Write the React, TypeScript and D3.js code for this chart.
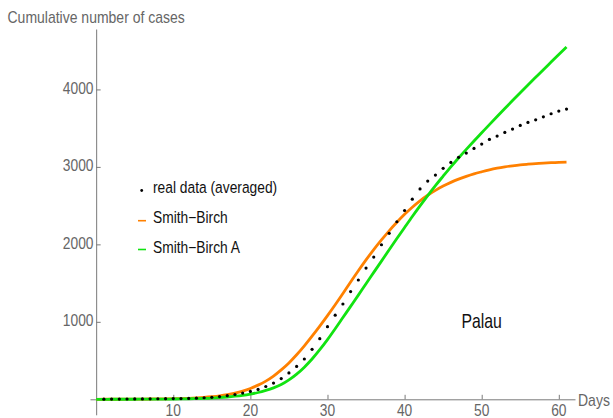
import React, { useEffect, useRef } from 'react';
import * as d3 from 'd3';

// days 1..61 of averaged real data
const dataDays = d3.range(1, 62);
const realData = [
  2, 3, 3, 4, 5, 5, 6, 7, 8, 9, 10, 12, 15, 20, 26, 35, 47, 62, 80, 102,
  128, 165, 210, 268, 340, 425, 520, 645, 782, 937, 1086, 1230, 1391, 1540, 1694, 1836, 1995, 2142, 2292, 2437,
  2583, 2716, 2817, 2894, 2981, 3058, 3123, 3178, 3239, 3294, 3355, 3398, 3445, 3488, 3535, 3574, 3608, 3646, 3686, 3720,
  3746,
];

// model curves sampled on days 0..61
const curveDays = d3.range(0, 62);
const smithBirch = [
  0, 0.5, 1, 1, 2, 2, 3, 4, 5, 6, 8, 10, 13, 18, 25, 34, 45, 60, 80, 106,
  140, 183, 235, 300, 380, 470, 575, 690, 815, 945, 1080, 1220, 1365, 1515, 1660, 1800, 1932, 2057, 2175, 2285,
  2388, 2480, 2562, 2634, 2697, 2752, 2800, 2842, 2878, 2910, 2937, 2962, 2983, 3000, 3014, 3026, 3035, 3043, 3049, 3054,
  3058, 3061,
];
const smithBirchA = [
  0, 0, 0.5, 1, 1, 1, 2, 2, 3, 3, 4, 5, 7, 9, 12, 16, 22, 30, 40, 52,
  68, 88, 115, 148, 190, 250, 325, 415, 520, 640, 770, 910, 1055, 1200, 1345, 1492, 1638, 1784, 1930, 2075,
  2218, 2360, 2497, 2630, 2758, 2880, 3000, 3115, 3226, 3334, 3440, 3546, 3651, 3754, 3856, 3957, 4057, 4156, 4255, 4353,
  4451, 4548,
];

const xTicks = [10, 20, 30, 40, 50, 60];
const yTicks = [1000, 2000, 3000, 4000];
const legendLabels = ['real data (averaged)', 'Smith\u2212Birch', 'Smith\u2212Birch A'];

const App = () => {
  const ref = useRef<SVGSVGElement>(null);

  useEffect(() => {
    const svg = d3.select(ref.current);
    svg.selectAll('*').remove();

    const font = '"Liberation Sans", Arial, sans-serif';
    const axisColor = '#7a7a7a';
    const labelColor = '#666666';

    const x = d3.scaleLinear().domain([-0.8, 62.1]).range([90, 575]);
    const y = d3.scaleLinear().domain([-200, 4780]).range([414.8, 29]);

    // text squeezed horizontally like the original rendering
    const label = (tx: number, ty: number, str: string, opts: any = {}) => {
      const g = svg.append('g')
        .attr('transform', `translate(${tx},${ty}) scale(1,${opts.sy ?? 1.2})`);
      g.append('text')
        .attr('font-family', font)
        .attr('font-size', opts.size ?? 14)
        .attr('fill', opts.color ?? labelColor)
        .attr('text-anchor', opts.anchor ?? 'start')
        .text(str);
    };

    // X axis
    const xMinor = d3.range(2, 62, 2).filter(d => d % 10 !== 0);
    const xAxisG = svg.append('g').attr('transform', `translate(0,${y(0)})`);
    xAxisG.call(d3.axisBottom(x).tickValues(xMinor).tickSizeInner(-2.5).tickSizeOuter(0).tickFormat(() => ''));
    xAxisG.call(d3.axisBottom(x).tickValues(xTicks).tickSizeInner(-4.5).tickSizeOuter(0).tickFormat(() => ''));
    xAxisG.selectAll('path, line').attr('stroke', axisColor);

    // Y axis
    const yMinor = d3.range(200, 4700, 200).filter(d => d % 1000 !== 0);
    const yAxisG = svg.append('g').attr('transform', `translate(${x(0)},0)`);
    yAxisG.call(d3.axisLeft(y).tickValues(yMinor).tickSizeInner(-2.5).tickSizeOuter(0).tickFormat(() => ''));
    yAxisG.call(d3.axisLeft(y).tickValues(yTicks).tickSizeInner(-4.5).tickSizeOuter(0).tickFormat(() => ''));
    yAxisG.selectAll('path, line').attr('stroke', axisColor);

    xTicks.forEach(t => label(x(t), 415.5, String(t), { anchor: 'middle', size: 13.8, sy: 1.15 }));
    yTicks.forEach(t => label(93.5, y(t) + 4.6, String(t), { anchor: 'end', size: 13.8, sy: 1.15 }));

    label(7.5, 22.7, 'Cumulative number of cases');
    label(578, 406, 'Days');

    // curves
    const line = d3.line<number>()
      .x((_, i) => x(curveDays[i]))
      .y(d => y(d))
      .curve(d3.curveMonotoneX);

    svg.append('path')
      .attr('d', line(smithBirch))
      .attr('fill', 'none')
      .attr('stroke', '#ff8000')
      .attr('stroke-width', 2.8);

    svg.append('path')
      .attr('d', line(smithBirchA))
      .attr('fill', 'none')
      .attr('stroke', '#11e311')
      .attr('stroke-width', 2.8);

    svg.selectAll('.dot')
      .data(realData)
      .enter()
      .append('circle')
      .attr('cx', (_, i) => x(dataDays[i]))
      .attr('cy', d => y(d))
      .attr('r', 1.6)
      .attr('fill', 'black');

    // legend
    const legendY = [193.3, 223, 252.7];
    svg.append('circle').attr('cx', 141.7).attr('cy', 190.5).attr('r', 1.4).attr('fill', 'black');
    svg.append('line').attr('x1', 138).attr('x2', 146).attr('y1', 220.7).attr('y2', 220.7)
      .attr('stroke', '#ff8000').attr('stroke-width', 1.6);
    svg.append('line').attr('x1', 138).attr('x2', 146).attr('y1', 249.5).attr('y2', 249.5)
      .attr('stroke', '#11e311').attr('stroke-width', 1.6);
    legendLabels.forEach((t, i) => label(153, legendY[i], t, { color: '#111', size: 13.8, sy: 1.18 }));

    label(461.5, 328, 'Palau', { color: '#111', size: 15.8, sy: 1.3 });
  }, []);

  return (
    <svg ref={ref} width={613} height={418}
      style={{ position: 'absolute', left: 0, top: 0, background: 'white' }} />
  );
};

export default App;
